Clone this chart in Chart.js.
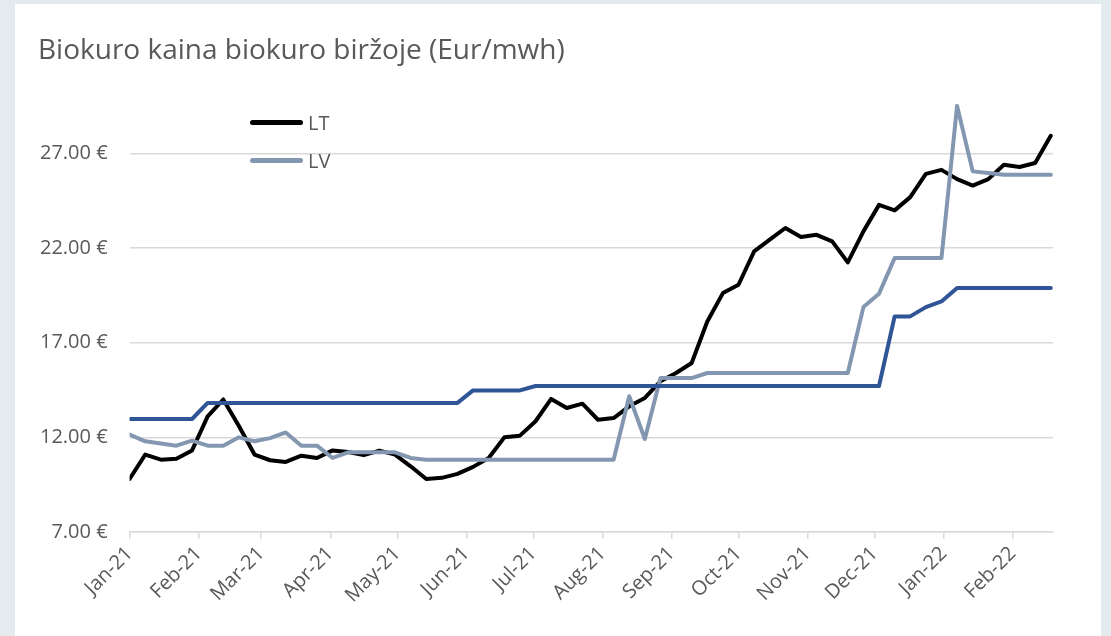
<!DOCTYPE html>
<html lang="lt">
<head>
  <meta charset="UTF-8" />
  <title>Biokuro kaina biokuro biržoje</title>
  <script src="https://cdn.jsdelivr.net/npm/chart.js"></script>
  <style>
    html, body {
      margin: 0;
      padding: 0;
      width: 1111px;
      height: 636px;
      overflow: hidden;
      background: #e4ebef;
      font-family: "Open Sans", sans-serif;
    }

    .card {
      position: absolute;
      left: 15px;
      top: 4px;
      width: 1086px;
      height: 640px;
      background: #fff;
    }

    #chartCanvas {
      position: absolute;
      left: 0;
      top: 0;
    }

    #legenda {
      position: absolute;
      left: 235px;
      top: 99px;
    }

    .leg-row {
      display: flex;
      align-items: center;
      height: 38px;
      color: #595959;
      font-size: 20px;
    }

    .leg-line {
      display: inline-block;
      width: 53px;
      height: 5px;
      border-radius: 3px;
      margin-right: 5px;
    }
  </style>
</head>
<body>
  <div class="card">
    <canvas id="chartCanvas" width="1086" height="632"></canvas>
    <div id="legenda"></div>
  </div>

  <script>
    // Savaitinės datos (penktadieniai)
    const datos = [
      "2021-01-01", "2021-01-08", "2021-01-15", "2021-01-22", "2021-01-29",
      "2021-02-05", "2021-02-12", "2021-02-19", "2021-02-26",
      "2021-03-05", "2021-03-12", "2021-03-19", "2021-03-26",
      "2021-04-02", "2021-04-09", "2021-04-16", "2021-04-23", "2021-04-30",
      "2021-05-07", "2021-05-14", "2021-05-21", "2021-05-28",
      "2021-06-04", "2021-06-11", "2021-06-18", "2021-06-25",
      "2021-07-02", "2021-07-09", "2021-07-16", "2021-07-23", "2021-07-30",
      "2021-08-06", "2021-08-13", "2021-08-20", "2021-08-27",
      "2021-09-03", "2021-09-10", "2021-09-17", "2021-09-24",
      "2021-10-01", "2021-10-08", "2021-10-15", "2021-10-22", "2021-10-29",
      "2021-11-05", "2021-11-12", "2021-11-19", "2021-11-26",
      "2021-12-03", "2021-12-10", "2021-12-17", "2021-12-24", "2021-12-31",
      "2022-01-07", "2022-01-14", "2022-01-21", "2022-01-28",
      "2022-02-04", "2022-02-11", "2022-02-18"
    ];

    const ltKainos = [
      9.80, 11.09, 10.82, 10.87, 11.31,
      13.11, 14.00, 12.60, 11.09,
      10.79, 10.70, 11.03, 10.91,
      11.31, 11.23, 11.06, 11.30, 11.09,
      10.47, 9.80, 9.86, 10.07,
      10.44, 10.91, 12.00, 12.09,
      12.85, 14.03, 13.55, 13.78, 12.93,
      13.02, 13.64, 14.08, 14.96,
      15.40, 15.93, 18.12, 19.62,
      20.06, 21.82, 22.44, 23.06, 22.58,
      22.70, 22.35, 21.24, 22.88,
      24.28, 23.99, 24.69, 25.92, 26.13,
      25.64, 25.30, 25.64, 26.40,
      26.28, 26.49, 27.93
    ];

    const lvKainos = [
      12.14, 11.79, 11.67, 11.56, 11.83,
      11.56, 11.56, 12.00, 11.79,
      11.96, 12.26, 11.56, 11.56,
      10.91, 11.21, 11.21, 11.21, 11.21,
      10.91, 10.82, 10.82, 10.82,
      10.82, 10.82, 10.82, 10.82,
      10.82, 10.82, 10.82, 10.82, 10.82,
      10.82, 14.17, 11.91, 15.13,
      15.13, 15.13, 15.40, 15.40,
      15.40, 15.40, 15.40, 15.40, 15.40,
      15.40, 15.40, 15.40, 18.88,
      19.59, 21.47, 21.47, 21.47, 21.47,
      29.51, 26.05, 25.96, 25.87,
      25.87, 25.87, 25.87
    ];

    const eeKainos = [
      12.97, 12.97, 12.97, 12.97, 12.97,
      13.82, 13.82, 13.82, 13.82,
      13.82, 13.82, 13.82, 13.82,
      13.82, 13.82, 13.82, 13.82, 13.82,
      13.82, 13.82, 13.82, 13.82,
      14.48, 14.48, 14.48, 14.48,
      14.71, 14.71, 14.71, 14.71, 14.71,
      14.71, 14.71, 14.71, 14.71,
      14.71, 14.71, 14.71, 14.71,
      14.71, 14.71, 14.71, 14.71, 14.71,
      14.71, 14.71, 14.71, 14.71,
      14.71, 18.39, 18.39, 18.88, 19.18,
      19.89, 19.89, 19.89, 19.89,
      19.89, 19.89, 19.89
    ];

    // Ašių žymės
    const menesiuPradzios = [
      "2021-01-01", "2021-02-01", "2021-03-01", "2021-04-01", "2021-05-01",
      "2021-06-01", "2021-07-01", "2021-08-01", "2021-09-01", "2021-10-01",
      "2021-11-01", "2021-12-01", "2022-01-01", "2022-02-01"
    ];
    const menesiai = [
      "Jan-21", "Feb-21", "Mar-21", "Apr-21", "May-21", "Jun-21", "Jul-21",
      "Aug-21", "Sep-21", "Oct-21", "Nov-21", "Dec-21", "Jan-22", "Feb-22"
    ];
    const yZymes = [7, 12, 17, 22, 27];
    const legendosZymes = ["LT", "LV"];

    const pradzia = Date.UTC(2021, 0, 1);
    const dienos = d => (Date.parse(d + "T00:00:00Z") - pradzia) / 86400000;
    const taskai = arr => arr.map((v, i) => ({ x: dienos(datos[i]), y: v }));

    const tekstas = "#595959";
    const tinklas = "#d9d9d9";
    const sriftas = "'Open Sans', sans-serif";

    const ctx = document.getElementById("chartCanvas").getContext("2d");
    const chart = new Chart(ctx, {
      type: "line",
      data: {
        datasets: [
          { label: "LT", data: taskai(ltKainos), borderColor: "#000000", order: 2 },
          { label: "LV", data: taskai(lvKainos), borderColor: "#8497b0", order: 1 },
          { label: "EE", data: taskai(eeKainos), borderColor: "#2f5597", order: 0 }
        ]
      },
      options: {
        responsive: false,
        animation: false,
        events: [],
        layout: { padding: { left: 23, right: 48, top: 0, bottom: 0 } },
        elements: {
          line: { borderWidth: 4, tension: 0, borderJoinStyle: "round", borderCapStyle: "round", fill: false },
          point: { radius: 0 }
        },
        plugins: {
          legend: { display: false },
          tooltip: { enabled: false },
          title: {
            display: true,
            text: "Biokuro kaina biokuro biržoje (Eur/mwh)",
            align: "start",
            color: tekstas,
            font: { family: sriftas, size: 28, weight: "normal" },
            padding: { top: 30, bottom: 29 }
          }
        },
        scales: {
          x: {
            type: "linear",
            min: 0,
            max: 414,
            afterBuildTicks: s => { s.ticks = menesiuPradzios.map(d => ({ value: dienos(d) })); },
            afterFit: s => { s.height = 104; },
            grid: { drawOnChartArea: false, drawTicks: true, tickLength: 7, color: tinklas, lineWidth: 1.5 },
            border: { display: true, color: tinklas, width: 1.5 },
            ticks: {
              autoSkip: false,
              maxRotation: 45,
              minRotation: 45,
              padding: 3,
              color: tekstas,
              font: { family: sriftas, size: 20 },
              callback: (v, i) => menesiai[i]
            }
          },
          y: {
            min: 7,
            max: 30,
            afterBuildTicks: s => { s.ticks = yZymes.map(v => ({ value: v })); },
            afterFit: s => { s.width = 91.6; },
            grid: { color: tinklas, lineWidth: 1.5, drawTicks: false },
            border: { display: false },
            ticks: {
              padding: 22,
              color: tekstas,
              font: { family: sriftas, size: 20 },
              callback: v => v.toFixed(2) + " €"
            }
          }
        }
      }
    });

    // Legenda (tik LT ir LV)
    const legenda = document.getElementById("legenda");
    chart.data.datasets
      .filter(ds => legendosZymes.includes(ds.label))
      .forEach(ds => {
        const row = document.createElement("div");
        row.className = "leg-row";
        row.innerHTML = `<span class="leg-line" style="background:${ds.borderColor}"></span>${ds.label}`;
        legenda.appendChild(row);
      });
  </script>
</body>
</html>
